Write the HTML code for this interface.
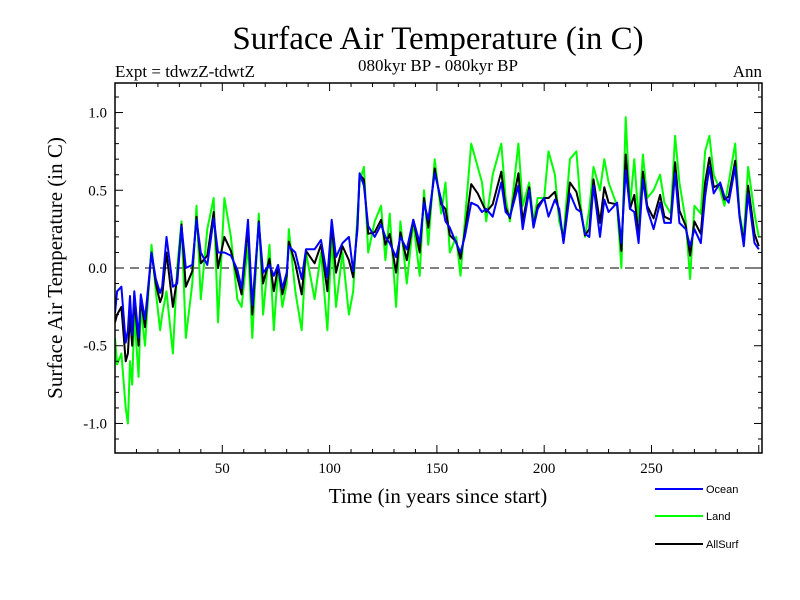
<!DOCTYPE html>
<html><head><meta charset="utf-8"><style>
body{margin:0;background:#fff}
svg{display:block}
text{font-family:"Liberation Serif",serif;fill:#000}
</style></head><body>
<svg id="chart" width="800" height="600">
<text x="438" y="49" font-size="33" text-anchor="middle">Surface Air Temperature (in C)</text>
<text x="115" y="77" font-size="17">Expt = tdwzZ-tdwtZ</text>
<text x="438" y="71" font-size="17" text-anchor="middle">080kyr BP - 080kyr BP</text>
<text x="762" y="77" font-size="17" text-anchor="end">Ann</text>
<text x="0" y="0" font-size="21" text-anchor="middle" transform="translate(62,268) rotate(-90)">Surface Air Temperature (in C)</text>
<text x="438" y="503" font-size="21" text-anchor="middle">Time (in years since start)</text>
<g id="plot"></g>
<g id="axes"></g>
<g>
<line x1="655" y1="489" x2="703" y2="489" stroke="#0000ff" stroke-width="2"/>
<text x="706" y="493" font-size="11" style="font-family:'Liberation Sans',sans-serif">Ocean</text>
<line x1="655" y1="516" x2="703" y2="516" stroke="#00ff00" stroke-width="2"/>
<text x="706" y="520" font-size="11" style="font-family:'Liberation Sans',sans-serif">Land</text>
<line x1="655" y1="544" x2="703" y2="544" stroke="#000" stroke-width="2"/>
<text x="706" y="548" font-size="11" style="font-family:'Liberation Sans',sans-serif">AllSurf</text>
</g>
</svg>
<script>
const years=[0,1,3,5,6,7,8,9,11,12,14,17,19,21,22,24,27,29,31,33,36,38,40,43,46,48,51,54,57,59,62,64,67,69,72,74,76,78,80,81,84,87,89,93,96,99,101,103,106,109,111,113,114,116,118,121,124,126,128,131,133,136,139,142,144,146,149,152,154,156,159,161,163,166,169,171,173,176,180,182,184,188,190,193,195,197,200,202,205,207,209,212,215,217,219,221,223,226,228,230,234,236,238,240,242,244,246,248,251,254,256,259,261,263,266,268,270,273,275,277,279,282,284,286,289,291,293,295,298,300];
const ocean=[-0.29,-0.15,-0.12,-0.48,-0.4,-0.18,-0.43,-0.15,-0.45,-0.17,-0.33,0.1,-0.07,-0.16,-0.12,0.2,-0.12,-0.1,0.27,0.0,0.02,0.31,0.1,0.02,0.32,0.1,0.1,0.08,-0.01,-0.13,0.31,-0.24,0.29,-0.03,0.02,-0.05,0.02,-0.13,-0.03,0.14,0.1,-0.07,0.12,0.12,0.18,-0.06,0.31,0.07,0.16,0.2,-0.02,0.25,0.61,0.53,0.27,0.2,0.28,0.2,0.16,0.07,0.2,0.12,0.31,0.16,0.42,0.31,0.61,0.44,0.3,0.26,0.16,0.1,0.2,0.42,0.4,0.36,0.38,0.33,0.55,0.36,0.33,0.53,0.25,0.5,0.26,0.38,0.45,0.33,0.44,0.38,0.16,0.48,0.38,0.36,0.22,0.2,0.53,0.2,0.44,0.36,0.42,0.16,0.63,0.38,0.36,0.16,0.57,0.38,0.25,0.42,0.29,0.29,0.61,0.29,0.25,0.14,0.25,0.16,0.46,0.65,0.48,0.55,0.46,0.42,0.65,0.33,0.14,0.48,0.16,0.12];
const land=[-0.45,-0.62,-0.55,-0.9,-1.0,-0.6,-0.75,-0.3,-0.7,-0.25,-0.5,0.15,-0.15,-0.4,-0.3,-0.15,-0.55,0.0,0.3,-0.45,-0.1,0.4,-0.2,0.25,0.45,-0.35,0.45,0.2,-0.2,-0.25,0.15,-0.45,0.35,-0.3,0.15,-0.4,0.0,-0.25,-0.1,0.25,-0.15,-0.4,0.1,-0.2,0.1,-0.4,0.2,-0.25,0.1,-0.3,-0.15,0.35,0.55,0.65,0.1,0.3,0.4,0.05,0.35,-0.25,0.3,-0.1,0.3,-0.05,0.5,0.15,0.7,0.35,0.55,0.1,0.2,-0.05,0.3,0.8,0.65,0.55,0.3,0.6,0.8,0.45,0.3,0.8,0.4,0.55,0.3,0.45,0.45,0.75,0.6,0.3,0.2,0.7,0.75,0.4,0.2,0.38,0.65,0.5,0.7,0.55,0.4,0.0,0.97,0.4,0.7,0.3,0.73,0.45,0.5,0.6,0.42,0.35,0.85,0.55,0.3,-0.07,0.4,0.35,0.75,0.85,0.6,0.5,0.4,0.55,0.8,0.35,0.2,0.65,0.35,0.2];
const allsurf=[-0.35,-0.3,-0.25,-0.6,-0.55,-0.3,-0.5,-0.2,-0.5,-0.2,-0.38,0.1,-0.1,-0.22,-0.18,0.1,-0.25,-0.06,0.28,-0.12,-0.02,0.33,0.03,0.08,0.36,0.0,0.2,0.11,-0.06,-0.17,0.26,-0.3,0.3,-0.1,0.06,-0.15,0.01,-0.17,-0.05,0.17,0.03,-0.17,0.11,0.03,0.15,-0.15,0.28,-0.03,0.14,0.05,-0.06,0.28,0.6,0.57,0.22,0.23,0.31,0.15,0.22,-0.03,0.23,0.05,0.31,0.1,0.45,0.26,0.64,0.41,0.38,0.21,0.17,0.06,0.23,0.54,0.48,0.42,0.36,0.41,0.62,0.39,0.32,0.61,0.3,0.52,0.27,0.4,0.45,0.45,0.49,0.36,0.17,0.55,0.49,0.37,0.21,0.25,0.57,0.29,0.52,0.42,0.41,0.11,0.73,0.38,0.47,0.2,0.62,0.4,0.32,0.47,0.33,0.31,0.68,0.37,0.27,0.08,0.3,0.22,0.55,0.71,0.52,0.54,0.44,0.46,0.69,0.34,0.16,0.53,0.22,0.14];
const xTicks=[50,100,150,200,250];
const yTicks=[-1.0,-0.5,0.0,0.5,1.0];

const L=115,R=762,T=83,B=453;
const X0=0,X1=301.5,Y0=-1.19,Y1=1.19;
const sx=v=>L+(v-X0)/(X1-X0)*(R-L);
const sy=v=>B-(v-Y0)/(Y1-Y0)*(B-T);
const NS='http://www.w3.org/2000/svg';
const plot=document.getElementById('plot'),axes=document.getElementById('axes');
function mk(tag,attrs,parent){const e=document.createElementNS(NS,tag);for(const k in attrs)e.setAttribute(k,attrs[k]);parent.appendChild(e);return e;}

const defs=mk('defs',{},plot);
const cp=mk('clipPath',{id:'clip'},defs);
mk('rect',{x:L,y:T,width:R-L,height:B-T},cp);

const zl=mk('line',{x1:L,x2:R,y1:sy(0),y2:sy(0),stroke:'#000','stroke-width':1,'stroke-dasharray':'9,6'},plot);



function series(vals,color,name){
  const d=vals.map((v,i)=>(i?'L':'M')+sx(years[i]).toFixed(1)+','+sy(v).toFixed(1)).join('');
  const p=mk('path',{d:d,fill:'none',stroke:color,'stroke-width':2,'clip-path':'url(#clip)','stroke-linejoin':'round'},plot);
  
  
}
series(land,'#00ff00','land-series');
series(allsurf,'#000000','allsurf-series');
series(ocean,'#0000ff','ocean-series');

const frame=mk('rect',{x:L,y:T,width:R-L,height:B-T,fill:'none',stroke:'#000','stroke-width':1.5},axes);



for(let t=10;t<=300;t+=10){
  const major=t%50===0,len=major?8:4,x=sx(t);
  mk('line',{x1:x,x2:x,y1:B,y2:B-len,stroke:'#000'},axes);
  mk('line',{x1:x,x2:x,y1:T,y2:T+len,stroke:'#000'},axes);
}
xTicks.forEach(t=>{
  const tx=mk('text',{x:sx(t),y:B+20,'font-size':15,'text-anchor':'middle'},axes);
  tx.textContent=t;
  
  
});
for(let i=-11;i<=11;i++){
  const v=i/10,major=i%5===0,len=major?8:4,y=sy(v);
  mk('line',{x1:L,x2:L+len,y1:y,y2:y,stroke:'#000'},axes);
  mk('line',{x1:R,x2:R-len,y1:y,y2:y,stroke:'#000'},axes);
}
yTicks.forEach(t=>{
  const tx=mk('text',{x:L-8,y:sy(t)+5,'font-size':15,'text-anchor':'end'},axes);
  tx.textContent=t.toFixed(1);
  
  
});
</script>
</body></html>
